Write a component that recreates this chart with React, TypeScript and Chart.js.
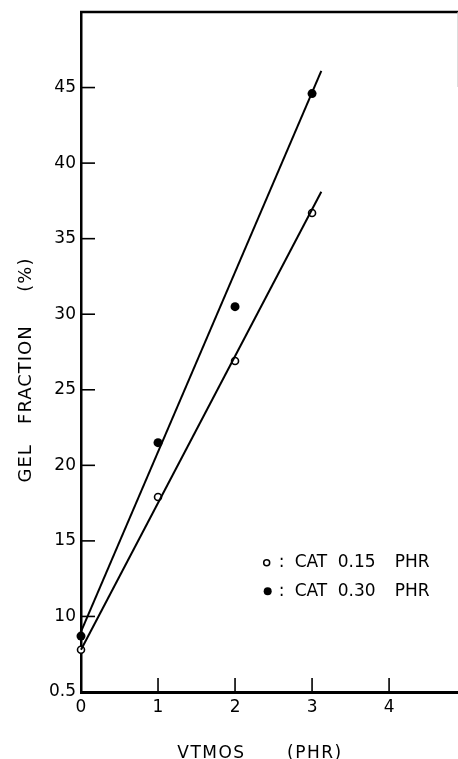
import React, { useEffect, useRef } from "react";
import { Chart, registerables } from "chart.js";

Chart.register(...registerables);

// ---- data ----
const vtmosPhr = [0, 1, 2, 3];
const gelCat015 = [7.8, 17.9, 26.9, 36.7];
const gelCat030 = [8.7, 21.5, 30.5, 44.6];

const fitX = [0, 3.12];
const fitCat015 = [7.8, 38.1];
const fitCat030 = [9.0, 46.1];

const xTickValues = [0, 1, 2, 3, 4];
const xTickLabels = ["0", "1", "2", "3", "4"];
const yTickValues = [5, 10, 15, 20, 25, 30, 35, 40, 45];
const yTickLabels = ["0.5", "10", "15", "20", "25", "30", "35", "40", "45"];

const legendCat = ["CAT", "CAT"];
const legendAmount = ["0.15", "0.30"];
const legendUnit = ["PHR", "PHR"];
const xTitle = "VTMOS      (PHR)";
const yTitle = "GEL   FRACTION     (%)";

const FONT = "'DejaVu Sans', 'Liberation Sans', sans-serif";

const paperPlugin = {
  id: "paper",
  afterDraw(chart: any) {
    const { ctx, chartArea } = chart;
    const xs = chart.scales.x;
    const ys = chart.scales.y;
    ctx.save();
    ctx.strokeStyle = "#000";
    ctx.fillStyle = "#000";

    // top frame line
    ctx.lineWidth = 2.5;
    ctx.beginPath();
    ctx.moveTo(chartArea.left - 1, chartArea.top);
    ctx.lineTo(chart.width, chartArea.top);
    ctx.stroke();
    // faint right edge
    ctx.strokeStyle = "#c8c8c8";
    ctx.lineWidth = 1;
    ctx.beginPath();
    ctx.moveTo(chartArea.right - 0.5, chartArea.top);
    ctx.lineTo(chartArea.right - 0.5, chartArea.top + 75);
    ctx.stroke();
    ctx.strokeStyle = "#000";

    // inward tick marks
    ctx.lineWidth = 1.6;
    yTickValues.forEach((v) => {
      if (v === ys.min) return;
      const py = ys.getPixelForValue(v);
      ctx.beginPath();
      ctx.moveTo(chartArea.left, py);
      ctx.lineTo(chartArea.left + 14, py);
      ctx.stroke();
    });
    xTickValues.forEach((v) => {
      if (v === xs.min) return;
      const px = xs.getPixelForValue(v);
      ctx.beginPath();
      ctx.moveTo(px, chartArea.bottom);
      ctx.lineTo(px, chartArea.bottom - 14);
      ctx.stroke();
    });

    // legend
    const w = chartArea.right - chartArea.left;
    const h = chartArea.bottom - chartArea.top;
    const mx = chartArea.left + w * 0.492;
    const rows = [chartArea.top + h * 0.81, chartArea.top + h * 0.852];
    ctx.font = `17px ${FONT}`;
    ctx.textBaseline = "middle";
    ctx.textAlign = "left";
    rows.forEach((ry, i) => {
      ctx.beginPath();
      if (i === 0) {
        ctx.lineWidth = 1.5;
        ctx.fillStyle = "#fff";
        ctx.arc(mx, ry, 3, 0, Math.PI * 2);
        ctx.fill();
        ctx.stroke();
        ctx.fillStyle = "#000";
      } else {
        ctx.arc(mx + 1, ry, 4, 0, Math.PI * 2);
        ctx.fill();
      }
      ctx.fillText(":", mx + 12, ry);
      ctx.fillText(legendCat[i], mx + 28, ry);
      ctx.fillText(legendAmount[i], mx + 71, ry);
      ctx.fillText(legendUnit[i], mx + 128, ry);
    });

    // axis titles
    ctx.font = `17px ${FONT}`;
    (ctx as any).letterSpacing = "1.5px";
    ctx.textAlign = "center";
    ctx.textBaseline = "alphabetic";
    ctx.fillText(xTitle, 260, 758);

    ctx.font = `18px ${FONT}`;
    (ctx as any).letterSpacing = "1px";
    ctx.translate(31, 370);
    ctx.rotate(-Math.PI / 2);
    ctx.fillText(yTitle, 0, 0);
    (ctx as any).letterSpacing = "0px";
    ctx.restore();
  },
};

export default function App() {
  const ref = useRef<HTMLCanvasElement | null>(null);

  useEffect(() => {
    if (!ref.current) return;
    const pts = (ys: number[]) => vtmosPhr.map((x, i) => ({ x, y: ys[i] }));
    const fit = (ys: number[]) => fitX.map((x, i) => ({ x, y: ys[i] }));

    const chart = new Chart(ref.current, {
      type: "scatter",
      data: {
        datasets: [
          {
            label: "fit 0.30",
            data: fit(fitCat030),
            showLine: true,
            borderColor: "#000",
            borderWidth: 2,
            pointRadius: 0,
            clip: false,
          },
          {
            label: "fit 0.15",
            data: fit(fitCat015),
            showLine: true,
            borderColor: "#000",
            borderWidth: 2,
            pointRadius: 0,
            clip: false,
          },
          {
            label: "CAT 0.15 PHR",
            data: pts(gelCat015),
            showLine: false,
            pointRadius: 3.5,
            pointBackgroundColor: "#fff",
            pointBorderColor: "#000",
            pointBorderWidth: 1.6,
            clip: false,
          },
          {
            label: "CAT 0.30 PHR",
            data: pts(gelCat030),
            showLine: false,
            pointRadius: 4.5,
            pointBackgroundColor: "#000",
            pointBorderColor: "#000",
            pointBorderWidth: 0,
            clip: false,
          },
        ],
      } as any,
      options: {
        animation: false,
        responsive: false,
        devicePixelRatio: 1,
        layout: { padding: { top: 12, right: 2, left: 0, bottom: 0 } },
        plugins: {
          legend: { display: false },
          tooltip: { enabled: false },
        },
        scales: {
          x: {
            type: "linear",
            min: 0,
            max: 4.9,
            afterFit: (s: any) => {
              s.height = 67;
              s.paddingLeft = 0;
              s.paddingRight = 0;
            },
            afterBuildTicks: (s: any) => {
              s.ticks = xTickValues.map((v) => ({ value: v }));
            },
            ticks: {
              padding: 5,
              color: "#000",
              font: { family: FONT, size: 17 },
              callback: (v: any) => {
                const i = xTickValues.indexOf(Number(v));
                return i >= 0 ? xTickLabels[i] : "";
              },
              maxRotation: 0,
              autoSkip: false,
            },
            grid: { display: true, drawOnChartArea: false, drawTicks: false },
            border: { display: true, color: "#000", width: 3 },
          },
          y: {
            type: "linear",
            min: 5,
            max: 50,
            afterFit: (s: any) => {
              s.width = 81;
              s.paddingTop = 0;
              s.paddingBottom = 0;
            },
            afterBuildTicks: (s: any) => {
              s.ticks = yTickValues.map((v) => ({ value: v }));
            },
            ticks: {
              padding: 5,
              color: "#000",
              font: { family: FONT, size: 17 },
              callback: (v: any) => {
                const i = yTickValues.indexOf(Number(v));
                return i >= 0 ? yTickLabels[i] : "";
              },
              autoSkip: false,
            },
            grid: { display: true, drawOnChartArea: false, drawTicks: false },
            border: { display: true, color: "#000", width: 2.5 },
          },
        },
      },
      plugins: [paperPlugin],
    } as any);
    return () => chart.destroy();
  }, []);

  return (
    <div
      style={{
        position: "absolute",
        left: 0,
        top: 0,
        width: 458,
        height: 759,
        overflow: "hidden",
        background: "#fff",
      }}
    >
      <canvas ref={ref} width={464} height={759} style={{ display: "block" }} />
    </div>
  );
}
